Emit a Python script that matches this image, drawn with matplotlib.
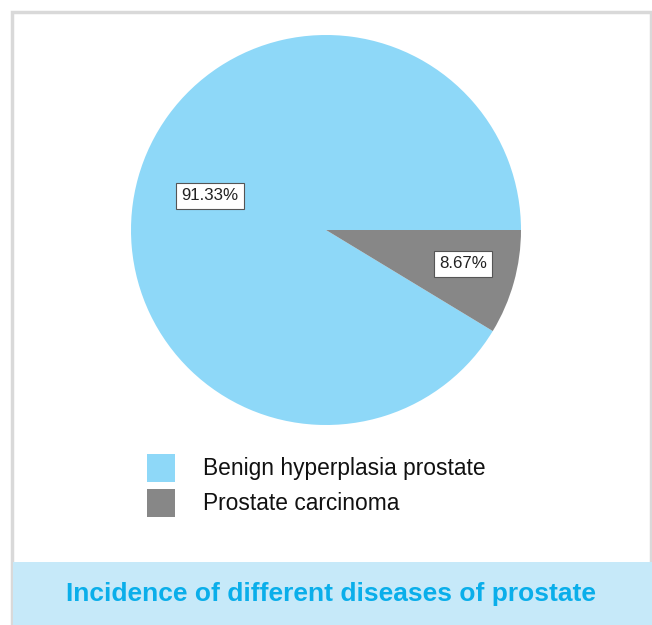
import matplotlib.pyplot as plt
import matplotlib.patches as mpatches

diseases = ['Benign hyperplasia prostate', 'Prostate carcinoma']
shares = [91.33, 8.67]
colors = ['#8ed8f8', '#878787']
title = 'Incidence of different diseases of prostate'

W, H = 652, 625
fig = plt.figure(figsize=(W / 100, H / 100), dpi=100)
ax = fig.add_axes([0, 0, 1, 1])

# pie in pixel coordinates (y measured from bottom)
wedges, texts = ax.pie(shares, colors=colors, startangle=0, counterclock=True,
                       center=(326, H - 230), radius=195, frame=True,
                       wedgeprops=dict(linewidth=0))
ax.set_xlim(0, W)
ax.set_ylim(0, H)
ax.set_aspect('auto')
ax.axis('off')

# value labels in small boxes
label_pos = [(210, H - 196), (463, H - 264)]
for (x, y), v in zip(label_pos, shares):
    ax.text(x, y, '%.2f%%' % v, ha='center', va='center', fontsize=12.2,
            family='Liberation Sans', color='#222222',
            bbox=dict(boxstyle='square,pad=0.3', fc='white', ec='#555555', lw=0.8))

# legend
for i, (name, c) in enumerate(zip(diseases, colors)):
    y0 = H - 482 - i * 35
    ax.add_patch(mpatches.Rectangle((147, y0), 28, 28, color=c, lw=0))
    ax.text(203, y0 + 14, name, ha='left', va='center', fontsize=16.4,
            family='Liberation Sans', color='#111111')

# outer frame
ax.add_patch(mpatches.Rectangle((11.5, 0), W - 13, H - 11.5, fill=False,
                                ec='#d9d9d9', lw=2.5, clip_on=False))
# title bar
ax.add_patch(mpatches.Rectangle((12.5, 0), W - 13, H - 562, color='#c6e9f9', lw=0))
ax.text(331, H - 594, title, ha='center', va='center', fontsize=19,
        fontweight='bold', family='Liberation Sans', color='#0aaeea')

fig.savefig('out.png', dpi=100)
